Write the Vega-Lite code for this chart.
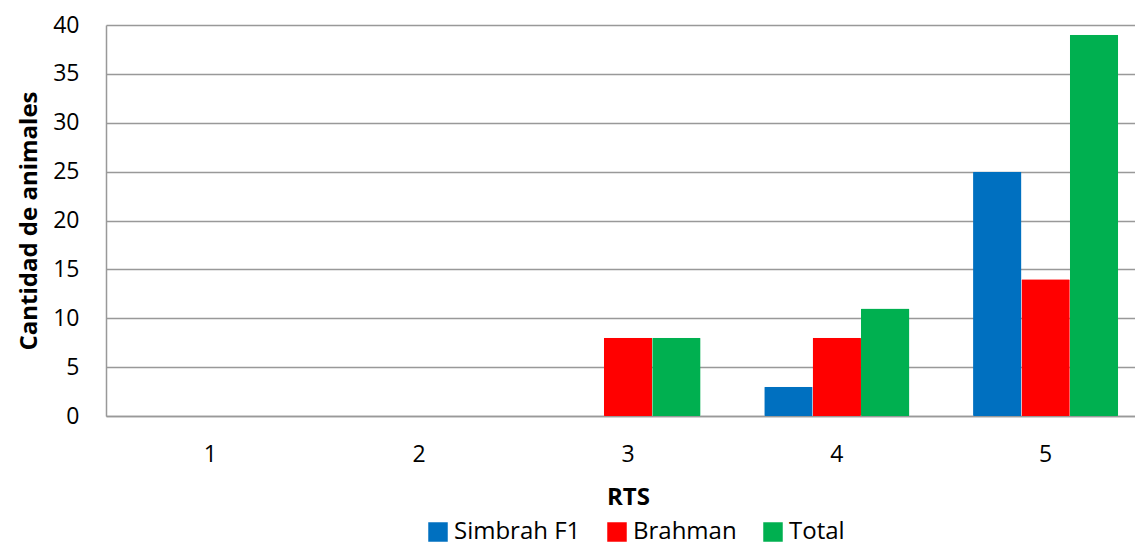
{
  "$schema": "https://vega.github.io/schema/vega-lite/v6.json",
  "width": 1029,
  "height": 391,
  "autosize": {"type": "none"},
  "padding": {"left": 106, "top": 25, "right": 0, "bottom": 136},
  "background": "white",
  "data": {
    "values": [
      {"rts": "1", "serie": "Simbrah F1", "n": 0},
      {"rts": "1", "serie": "Brahman", "n": 0},
      {"rts": "1", "serie": "Total", "n": 0},
      {"rts": "2", "serie": "Simbrah F1", "n": 0},
      {"rts": "2", "serie": "Brahman", "n": 0},
      {"rts": "2", "serie": "Total", "n": 0},
      {"rts": "3", "serie": "Simbrah F1", "n": 0},
      {"rts": "3", "serie": "Brahman", "n": 8},
      {"rts": "3", "serie": "Total", "n": 8},
      {"rts": "4", "serie": "Simbrah F1", "n": 3},
      {"rts": "4", "serie": "Brahman", "n": 8},
      {"rts": "4", "serie": "Total", "n": 11},
      {"rts": "5", "serie": "Simbrah F1", "n": 25},
      {"rts": "5", "serie": "Brahman", "n": 14},
      {"rts": "5", "serie": "Total", "n": 39}
    ]
  },
  "config": {
    "view": {"stroke": null},
    "font": "Open Sans"
  },
  "mark": {"type": "bar", "cornerRadius": 1},
  "encoding": {
    "x": {
      "field": "rts",
      "type": "nominal",
      "sort": ["1", "2", "3", "4", "5"],
      "scale": {"range": [0, 1044], "paddingInner": 0.305, "paddingOuter": 0.1525},
      "axis": {
        "title": "RTS",
        "titleFontSize": 24,
        "titleFontWeight": "bold",
        "titleColor": "#000",
        "titlePadding": 19,
        "labelAngle": 0,
        "labelFontSize": 23,
        "labelColor": "#000",
        "labelPadding": 27,
        "ticks": false,
        "domainColor": "#999",
        "domainWidth": 1.5
      }
    },
    "xOffset": {
      "field": "serie",
      "type": "nominal",
      "sort": ["Simbrah F1", "Brahman", "Total"],
      "scale": {"paddingInner": 0, "paddingOuter": 0}
    },
    "y": {
      "field": "n",
      "type": "quantitative",
      "scale": {"domain": [0, 40]},
      "axis": {
        "title": "Cantidad de animales",
        "titleFontSize": 24,
        "titleFontWeight": "bold",
        "titleColor": "#000",
        "titlePadding": 11,
        "values": [0, 5, 10, 15, 20, 25, 30, 35, 40],
        "labelFontSize": 23,
        "labelColor": "#000",
        "labelPadding": 27,
        "ticks": false,
        "grid": true,
        "gridColor": "#999",
        "gridWidth": 1.5,
        "domainColor": "#999",
        "domainWidth": 1.5
      }
    },
    "color": {
      "field": "serie",
      "type": "nominal",
      "sort": ["Simbrah F1", "Brahman", "Total"],
      "scale": {
        "domain": ["Simbrah F1", "Brahman", "Total"],
        "range": ["#0070C0", "#FF0000", "#00B050"]
      },
      "legend": {
        "title": null,
        "orient": "none",
        "legendX": 320,
        "legendY": 495,
        "direction": "horizontal",
        "symbolType": "square",
        "symbolSize": 380,
        "symbolStrokeWidth": 0,
        "labelFontSize": 24,
        "labelColor": "#000",
        "labelOffset": 4,
        "columnPadding": 24
      }
    }
  }
}
